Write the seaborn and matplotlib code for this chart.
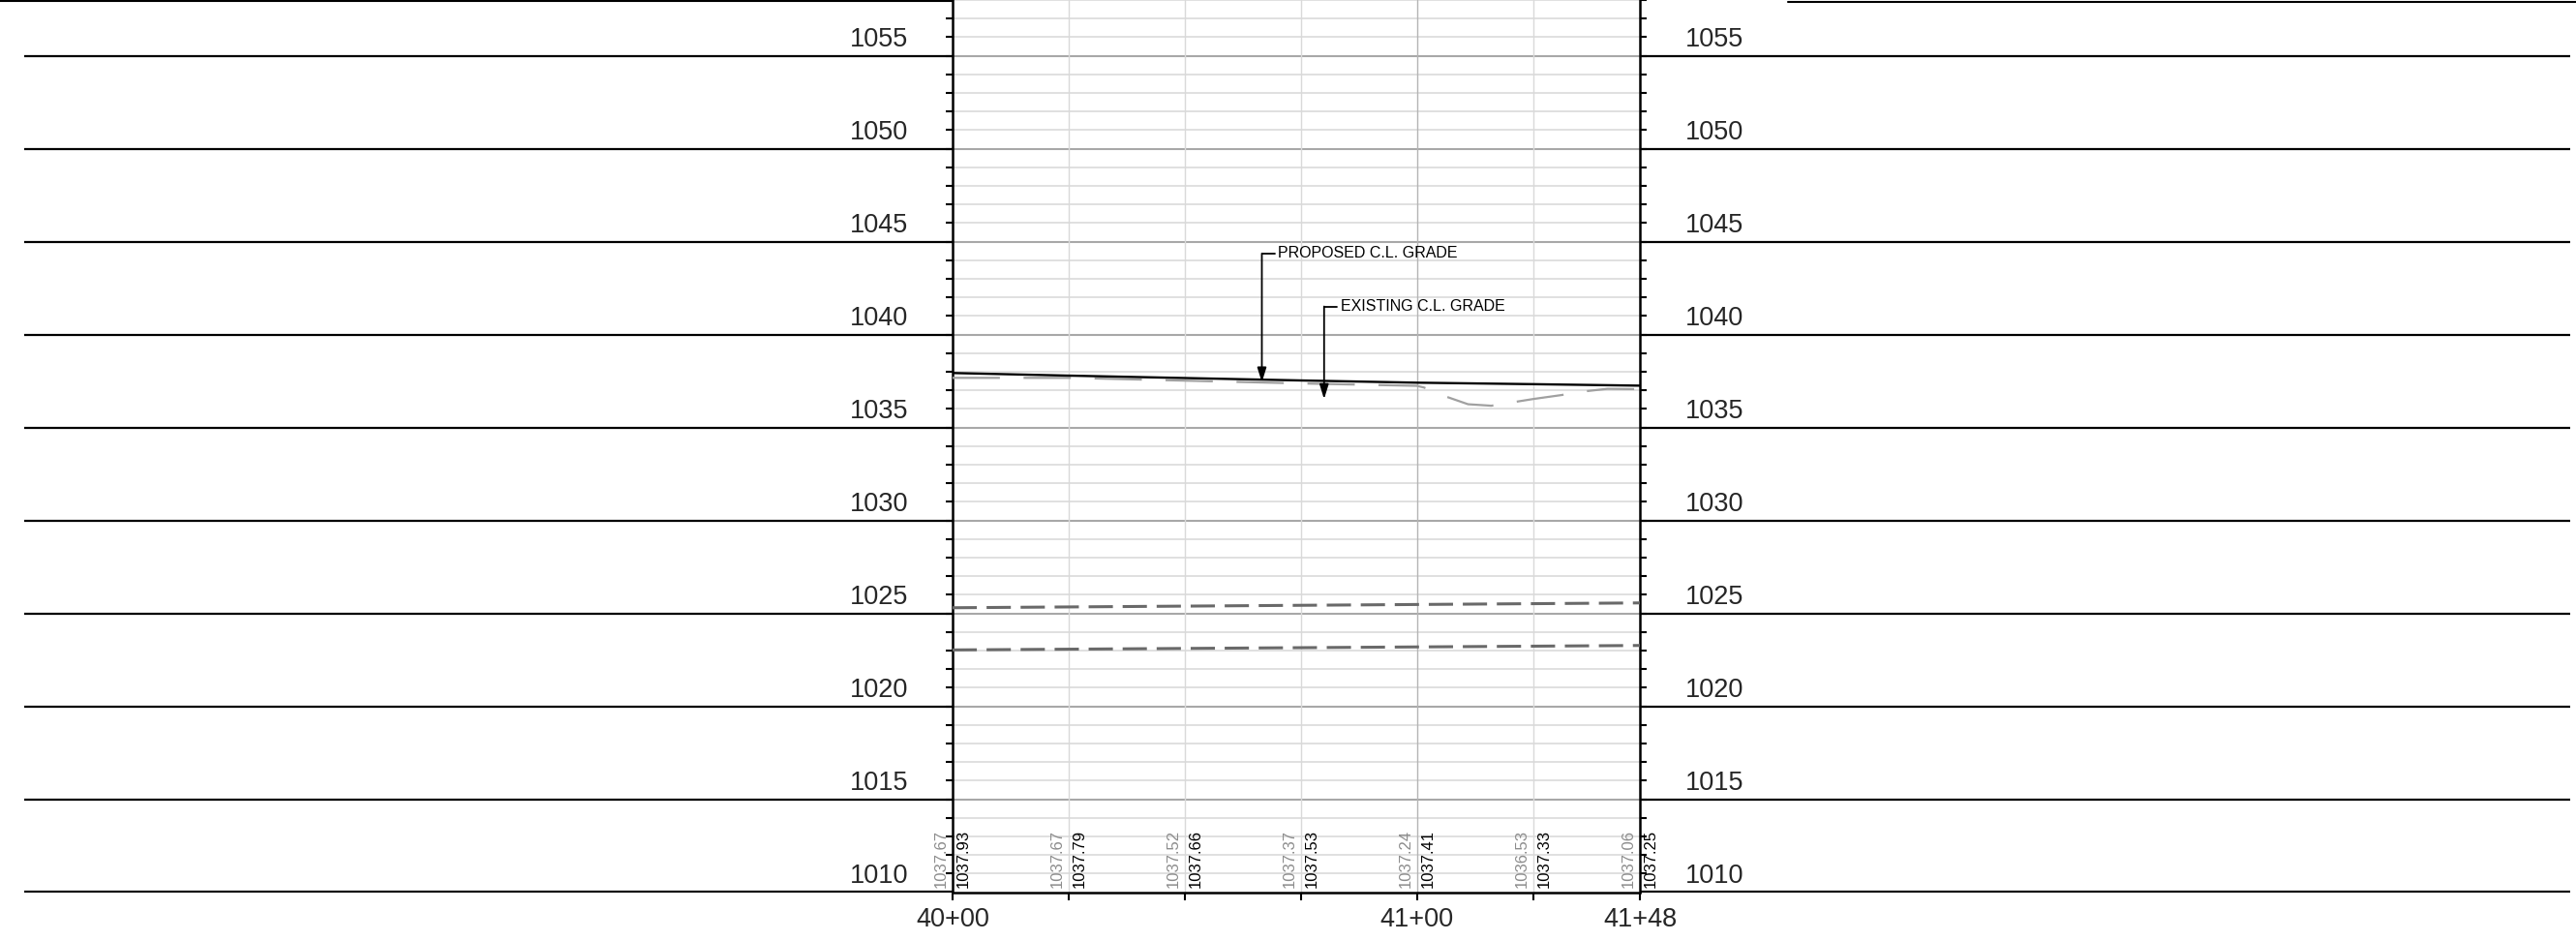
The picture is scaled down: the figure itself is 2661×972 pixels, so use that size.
#!/usr/bin/env python3
"""Road profile sheet 40+00 to 41+48: proposed vs existing C.L. grade."""

import matplotlib

matplotlib.use("Agg")
import matplotlib.pyplot as plt
import numpy as np
import pandas as pd
import seaborn as sns
from matplotlib.lines import Line2D

# stations in feet past 40+00
stations = [0, 25, 50, 75, 100, 125, 148]
station_labels = ["40+00", "", "", "", "41+00", "", "41+48"]
existing_at_station = [1037.67, 1037.67, 1037.52, 1037.37, 1037.24, 1036.53, 1037.06]
proposed_at_station = [1037.93, 1037.79, 1037.66, 1037.53, 1037.41, 1037.33, 1037.25]

# existing ground
existing_sta = [0, 25, 50, 75, 100, 101.5, 106.5, 111, 116, 125, 131, 136, 141, 148]
existing_elev = [1037.67, 1037.67, 1037.52, 1037.37, 1037.24, 1037.15, 1036.64,
                 1036.25, 1036.17, 1036.53, 1036.74, 1036.94, 1037.08, 1037.06]

pipe_sta = [0, 148]
pipe_upper = [1025.30, 1025.56]
pipe_lower = [1023.03, 1023.27]

elev_labels = list(range(1010, 1060, 5))
Y_MIN, Y_MAX = 1010, 1058

# sheet geometry in pixels
W, H, DPI = 2661, 972, 100
AX_LEFT, AX_RIGHT = 984, 1694
AX_BOTTOM_PX = 921.5

sns.set_style("white")
plt.rcParams["font.family"] = ["Liberation Sans", "DejaVu Sans"]

fig = plt.figure(figsize=(W / DPI, H / DPI), dpi=DPI)
bottom = (H - AX_BOTTOM_PX) / H
height = AX_BOTTOM_PX / H

# background: long elevation lines and labels on both sides
bg = fig.add_axes([0, bottom, 1, height], zorder=0)
bg.set_xlim(0, W)
bg.set_ylim(Y_MIN, Y_MAX)
bg.axis("off")
bg.hlines(elev_labels, 25, W - 6, color="black", lw=1.6)
for e in elev_labels:
    bg.text(AX_LEFT - 46, e + 0.85, str(e), ha="right", va="center", fontsize=19.5)
    bg.text(AX_RIGHT + 47, e + 0.85, str(e), ha="left", va="center", fontsize=19.5)

# sheet border pieces along the top
fig.add_artist(Line2D([0, AX_LEFT / W], [1 - 1.2 / H] * 2, color="black", lw=1.5))
fig.add_artist(Line2D([1847 / W, 1], [1 - 2 / H] * 2, color="black", lw=1.5))

ax = fig.add_axes([AX_LEFT / W, bottom, (AX_RIGHT - AX_LEFT) / W, height], zorder=1)
ax.set_facecolor("white")
ax.set_xlim(0, 148)
ax.set_ylim(Y_MIN, Y_MAX)

# grid
feet = np.arange(Y_MIN + 1, Y_MAX + 1)
minor = [f for f in feet if f % 5]
major = [f for f in feet if f % 5 == 0]
ax.hlines(minor, 0, 148, color="#e0e0e0", lw=1.4, zorder=0)
ax.hlines(major, 0, 148, color="#a8a8a8", lw=1.5, zorder=0)
for s in stations[1:-1]:
    ax.axvline(s, color="#b4b4b4" if s == 100 else "#d9d9d9", lw=1.0, zorder=0)

prop_df = pd.DataFrame({"sta": stations, "elev": proposed_at_station})
exist_df = pd.DataFrame({"sta": existing_sta, "elev": existing_elev})
pipe_df = pd.DataFrame({"sta": pipe_sta, "upper": pipe_upper, "lower": pipe_lower})

sns.lineplot(data=exist_df, x="sta", y="elev", sort=False, ax=ax, color="#a0a0a0",
             lw=1.6, linestyle=(0, (22, 11)), zorder=3)
sns.lineplot(data=prop_df, x="sta", y="elev", sort=False, ax=ax, color="black",
             lw=1.7, zorder=4)
for col in ("upper", "lower"):
    sns.lineplot(data=pipe_df, x="sta", y=col, sort=False, ax=ax, color="#696969",
                 lw=2.2, linestyle=(0, (8.2, 3.3)), zorder=3)

# leaders
arrow = dict(arrowstyle="-|>,head_length=0.9,head_width=0.28", color="black",
             lw=1.3, shrinkA=0, shrinkB=0)
callouts = [
    ("PROPOSED C.L. GRADE", 66.6, 1044.36, 1037.43),
    ("EXISTING C.L. GRADE", 80.0, 1041.51, 1036.53),
]
for label, sta, y_text, y_tip in callouts:
    ax.annotate("", xy=(sta, y_tip), xytext=(sta, y_text), arrowprops=arrow, zorder=5)
    ax.plot([sta, sta + 2.8], [y_text, y_text], color="black", lw=1.3, zorder=5)
    ax.text(sta + 3.5, y_text, label, ha="left", va="center", fontsize=11.5,
            color="black", zorder=5)

# elevations along the bottom
for s, ex, pr in zip(stations, existing_at_station, proposed_at_station):
    ax.annotate(f"{ex:.2f}", xy=(s, Y_MIN), xytext=(-3, 3), textcoords="offset points",
                rotation=90, ha="right", va="bottom", fontsize=12, color="#8c8c8c",
                annotation_clip=False, zorder=6)
    ax.annotate(f"{pr:.2f}", xy=(s, Y_MIN), xytext=(3, 3), textcoords="offset points",
                rotation=90, ha="left", va="bottom", fontsize=12, color="black",
                annotation_clip=False, zorder=6)

ax.set_xticks(stations)
ax.set_xticklabels(station_labels)
ax.set_yticks(feet)
ax.set_yticklabels([])
ax.tick_params(axis="x", bottom=True, direction="out", length=6, width=1.5,
               color="black", labelsize=19.5, pad=5.5)
ax.tick_params(axis="y", left=True, right=True, direction="out", length=5, width=1.5,
               color="black", labelleft=False)
ax.set_xlabel("")
ax.set_ylabel("")
for side in ("left", "right", "bottom"):
    ax.spines[side].set_color("black")
    ax.spines[side].set_linewidth(1.8)
ax.spines["top"].set_visible(False)

fig.savefig("out.png", dpi=DPI)
plt.close(fig)
